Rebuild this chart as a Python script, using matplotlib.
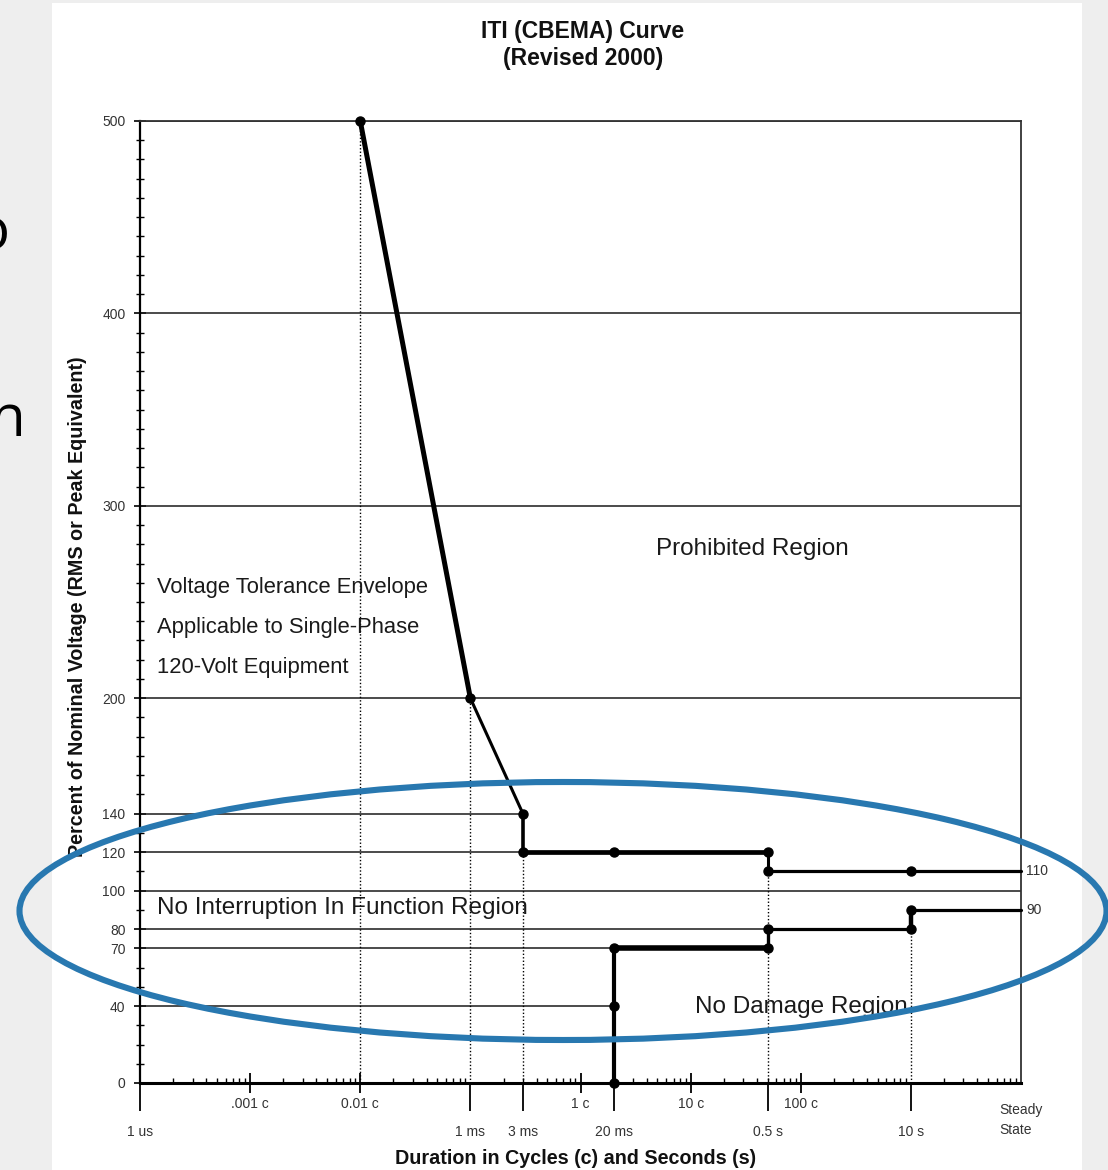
import numpy as np
import matplotlib.pyplot as plt
from matplotlib.patches import Ellipse, Rectangle
from matplotlib.ticker import LogLocator, NullFormatter, NullLocator

plt.rcParams['font.family'] = ['Liberation Sans', 'DejaVu Sans']

# duration in seconds, voltage in percent of nominal
upper_t = [1e-4, 1e-3, 3e-3, 3e-3, 0.02, 0.5, 0.5, 10, 100]
upper_v = [500, 200, 140, 120, 120, 120, 110, 110, 110]
lower_t = [0.02, 0.02, 0.02, 0.5, 0.5, 10, 10, 100]
lower_v = [0, 40, 70, 70, 80, 80, 90, 90]

# horizontal reference lines and the duration where each one stops
grid_v = [40, 70, 80, 100, 120, 140, 200, 300, 400, 500]
grid_end = [0.02, 0.02, 0.5, 100, 3e-3, 3e-3, 100, 100, 100, 100]

# dotted drop lines down to the axis
drop_t = [1e-4, 1e-3, 3e-3, 0.5, 10]
drop_v = [500, 200, 120, 110, 80]

y_ticks = [0, 40, 70, 80, 100, 120, 140, 200, 300, 400, 500]
cycle_ticks = [1e-5, 1e-4, 1e-2, 1e-1, 1]
cycle_labels = ['.001 c', '0.01 c', '1 c', '10 c', '100 c']
sec_ticks = [1e-6, 1e-3, 3e-3, 2e-2, 0.5, 10]
sec_labels = ['1 us', '1 ms', '3 ms', '20 ms', '0.5 s', '10 s']

W, H = 1108, 1170
fig = plt.figure(figsize=(W / 100, H / 100), dpi=100, facecolor='#eeeeee')

# slide background with the white chart panel
bg = fig.add_axes([0, 0, 1, 1], zorder=-10)
bg.set_xlim(0, W)
bg.set_ylim(H, 0)
bg.axis('off')
bg.add_patch(Rectangle((52, 3), 1030, 1167, facecolor='white', edgecolor='none'))
bg.text(10, 249, 'o', ha='right', va='baseline', fontsize=42,
        family=['Open Sans', 'DejaVu Sans'], color='black')
bg.text(26, 436, 'n', ha='right', va='baseline', fontsize=42,
        family=['Open Sans', 'DejaVu Sans'], color='black')

ax = fig.add_axes([140 / W, 87 / H, 881 / W, 962 / H])
ax.set_xscale('log')
ax.set_xlim(1e-6, 1e2)
ax.set_ylim(0, 500)

# reference lines
ax.hlines(grid_v, 1e-6, grid_end, color='#1a1a1a', lw=1.1, zorder=2)
ax.vlines(drop_t, 0, drop_v, color='black', lw=1.0, linestyles=(0, (1, 1.5)), zorder=2)

# envelope curves
upper_lw = [3.6, 2.2, 2.6, 3.4, 3.4, 2.2, 2.3, 2.3]
lower_lw = [3.0, 3.0, 4.0, 2.4, 2.3, 3.2, 2.3]
for i in range(len(upper_t) - 1):
    ax.plot(upper_t[i:i + 2], upper_v[i:i + 2], color='black', lw=upper_lw[i],
            solid_capstyle='round', zorder=4, clip_on=False)
for i in range(len(lower_t) - 1):
    ax.plot(lower_t[i:i + 2], lower_v[i:i + 2], color='black', lw=lower_lw[i],
            solid_capstyle='round', zorder=4, clip_on=False)
ax.plot(upper_t[:-1], upper_v[:-1], 'o', color='black', ms=6.5, zorder=5, clip_on=False)
ax.plot(lower_t[:-1], lower_v[:-1], 'o', color='black', ms=6.5, zorder=5, clip_on=False)

yt = ax.get_yaxis_transform()
ax.text(1.006, upper_v[-1], str(upper_v[-1]), transform=yt, ha='left', va='center',
        fontsize=10, color='#333333')
ax.text(1.006, lower_v[-1], str(lower_v[-1]), transform=yt, ha='left', va='center',
        fontsize=10, color='#333333')

# y axis
ax.set_yticks(y_ticks)
ax.set_yticks(np.arange(0, 501, 10), minor=True)
ax.tick_params(axis='y', which='major', direction='inout', length=9, width=1.2,
               labelsize=10, labelcolor='#333333', pad=6)
ax.tick_params(axis='y', which='minor', direction='inout', length=6, width=1.0)

# x axis: cycles on the main axis, seconds on a second axis below
ax.set_xticks(cycle_ticks, cycle_labels)
ax.xaxis.set_minor_locator(LogLocator(base=10, subs=np.arange(2, 10), numticks=30))
ax.xaxis.set_minor_formatter(NullFormatter())
ax.tick_params(axis='x', which='major', direction='inout', length=14, width=1.3,
               labelsize=10, labelcolor='#333333', pad=3)
ax.tick_params(axis='x', which='minor', direction='in', length=3.5, width=1.0)

sec = ax.secondary_xaxis('bottom')
sec.set_xticks(sec_ticks, sec_labels)
sec.xaxis.set_minor_locator(NullLocator())
sec.tick_params(axis='x', direction='out', length=20, width=1.3, labelsize=10,
                labelcolor='#333333', pad=10)
sec.spines['bottom'].set_visible(False)

ax.text(100, -0.0385, 'Steady\nState', transform=ax.get_xaxis_transform(),
        ha='center', va='center', multialignment='left', linespacing=1.6,
        fontsize=10, color='#333333')

for side in ['top', 'right']:
    ax.spines[side].set_linewidth(1.3)
    ax.spines[side].set_color('#333333')
ax.spines['left'].set_linewidth(1.6)
ax.spines['bottom'].set_linewidth(2.2)

# region annotations
txt = dict(transform=ax.transAxes, fontsize=17.5, color='#1a1a1a', va='center')
ax.text(0.695, 0.555, 'Prohibited Region', ha='center', **txt)
ax.text(0.0193, 0.182, 'No Interruption In Function Region', ha='left', **txt)
ax.text(0.630, 0.079, 'No Damage Region', ha='left', **txt)
small = dict(transform=ax.transAxes, fontsize=15.8, color='#1a1a1a', va='center', ha='left')
ax.text(0.0193, 0.5146, 'Voltage Tolerance Envelope', **small)
ax.text(0.0193, 0.473, 'Applicable to Single-Phase', **small)
ax.text(0.0193, 0.4314, '120-Volt Equipment', **small)

fig.text(583 / W, 1 - 45 / H, 'ITI (CBEMA) Curve\n(Revised 2000)', ha='center', va='center',
         fontsize=16.5, fontweight='bold', linespacing=1.25, color='#111111')
fig.text(78 / W, 1 - 607 / H, 'Percent of Nominal Voltage (RMS or Peak Equivalent)',
         rotation=90, ha='center', va='center', fontsize=14.2, fontweight='bold',
         color='#111111')
fig.text(576 / W, 1 - 1158 / H, 'Duration in Cycles (c) and Seconds (s)', ha='center',
         va='center', fontsize=14.2, fontweight='bold', color='#111111')

# highlight ring around the low-voltage band
fg = fig.add_axes([0, 0, 1, 1], zorder=10)
fg.set_xlim(0, W)
fg.set_ylim(H, 0)
fg.axis('off')
fg.patch.set_alpha(0)
fg.add_patch(Ellipse((563, 911), 1087, 258, fill=False, edgecolor='#2878b0', lw=4.4))

fig.savefig('out.png', dpi=100, facecolor=fig.get_facecolor())
